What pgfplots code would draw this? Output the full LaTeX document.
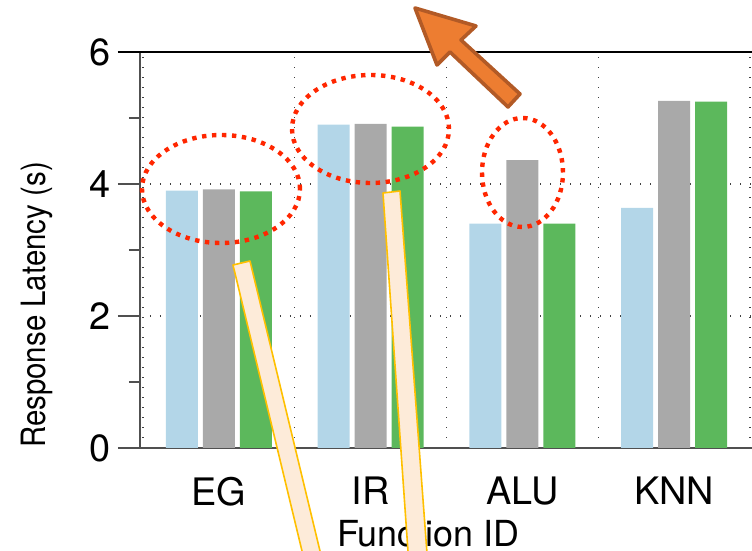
\documentclass[border=0pt]{standalone}
\usepackage{fontspec}
\setmainfont{TeX Gyre Heros}
\usepackage{pgfplots}
\pgfplotsset{compat=1.18}

\definecolor{barblue}{RGB}{179,214,232}
\definecolor{bargray}{RGB}{169,169,169}
\definecolor{bargreen}{RGB}{92,184,92}
\definecolor{spine}{RGB}{80,80,80}
\definecolor{ringred}{RGB}{255,38,0}
\definecolor{arrowfill}{RGB}{237,125,49}
\definecolor{arrowedge}{RGB}{178,90,38}
\definecolor{calloutfill}{RGB}{253,235,217}
\definecolor{calloutedge}{RGB}{255,192,0}

\begin{document}
\begin{tikzpicture}
\begin{axis}[
  at={(0,0)}, anchor=south west,
  scale only axis, width=307.3bp, height=198bp,
  xmin=0.48, xmax=4.53, ymin=0, ymax=6,
  ybar=2.5bp, bar width=16bp,
  xtick={1,2,3,4}, xticklabels={EG,IR,ALU,KNN},
  minor xtick={0.5,1.5,2.5,3.5,4.5},
  xminorgrids,
  ytick={0,2,4,6}, minor ytick={1,3,5},
  ymajorgrids,
  grid style={draw=black!75, line width=0.6bp, dash pattern=on 0.6bp off 4.4bp},
  minor grid style={draw=black!75, line width=0.6bp, dash pattern=on 0.6bp off 4.4bp},
  x tick style={draw=none},
  y tick style={draw=spine, line width=1bp},
  major tick length=11bp, minor tick length=5.5bp,
  tick align=outside,
  xtick pos=bottom, ytick pos=left,
  axis line style={draw=spine, line width=1bp},
  tick label style={font=\fontsize{19}{22}\selectfont},
  /pgf/number format/assume math mode=true,
  xlabel={Function ID},
  ylabel={\scalebox{0.88}[1]{Response Latency (s)}},
  xlabel style={font=\fontsize{18}{21}\selectfont, at={(axis description cs:0.469,-0.2475)}, anchor=base},
  ylabel style={font=\fontsize{16.8}{20}\selectfont, at={(axis description cs:-0.153,0.361)}, anchor=base},
]
\addplot[fill=barblue, draw=none] coordinates {(1,3.90) (2,4.90) (3,3.40) (4,3.64)};
\addplot[fill=bargray, draw=none] coordinates {(1,3.92) (2,4.91) (3,4.36) (4,5.26)};
\addplot[fill=bargreen, draw=none] coordinates {(1,3.89) (2,4.87) (3,3.40) (4,5.25)};
\end{axis}

% top frame line, running over the tick at 6
\draw[black, line width=0.9bp] (-11bp,198bp) -- (312bp,198bp);

% dotted highlight rings
\begin{scope}[draw=ringred, line width=2.2bp, dash pattern=on 2.2bp off 2.8bp]
  \draw (40.5bp,129.5bp) ellipse [x radius=39.5bp, y radius=27bp];
  \draw (115.25bp,159.5bp) ellipse [x radius=39.25bp, y radius=27bp];
  \draw (191.25bp,137.75bp) ellipse [x radius=20.25bp, y radius=27.25bp];
\end{scope}

% block arrow
\draw[fill=arrowfill, draw=arrowedge, line width=1.8bp, line join=round]
  (137.5bp,220bp) -- (168bp,211bp) -- (160.5bp,204bp) -- (190bp,177bp)
  -- (184bp,170.5bp) -- (155bp,198bp) -- (148.5bp,191.5bp) -- cycle;

% callout strips
\begin{scope}[fill=calloutfill, draw=calloutedge, line width=0.8bp, line join=round]
  \filldraw (46.5bp,91.5bp) -- (55bp,93.5bp) -- (93.5bp,-66bp) -- (84.5bp,-66bp) -- cycle;
  \filldraw (121.5bp,127.5bp) -- (130bp,128.5bp) -- (144.5bp,-66bp) -- (135bp,-66bp) -- cycle;
\end{scope}

\pgfresetboundingbox
\useasboundingbox (-70bp,-51.5bp) rectangle (306bp,224bp);
\end{tikzpicture}
\end{document}
